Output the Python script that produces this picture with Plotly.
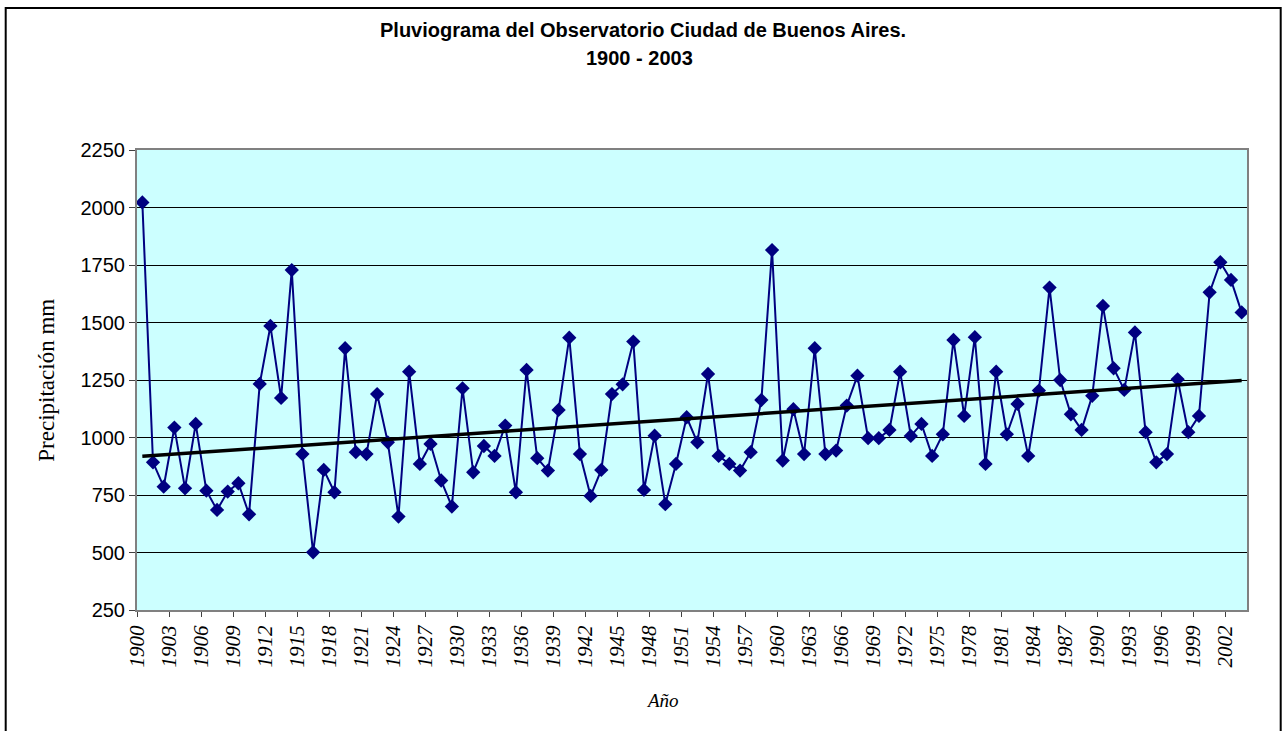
import numpy as np
import plotly.graph_objects as go

years = list(range(1900, 2004))
precip = [
    2022, 892, 786, 1043, 779, 1059, 769, 685, 765, 801,
    666, 1233, 1485, 1172, 1728, 928, 501, 859, 762, 1388,
    936, 928, 1189, 979, 656, 1286, 885, 972, 813, 700,
    1214, 849, 963, 920, 1052, 762, 1294, 910, 856, 1120,
    1434, 928, 746, 859, 1189, 1231, 1417, 772, 1008, 710,
    885, 1088, 979, 1276, 920, 885, 856, 936, 1163, 1815,
    900, 1123, 928, 1388, 928, 943, 1139, 1269, 997, 997,
    1033, 1286, 1007, 1059, 920, 1014, 1424, 1094, 1436, 885,
    1286, 1014, 1146, 920, 1204, 1652, 1250, 1101, 1033, 1181,
    1572, 1301, 1207, 1457, 1023, 892, 928, 1253, 1023, 1094,
    1631, 1762, 1685, 1544,
]
tick_years = list(range(1900, 2004, 3))
y_ticks = [250, 500, 750, 1000, 1250, 1500, 1750, 2000, 2250]

title_line1 = "Pluviograma del Observatorio Ciudad de Buenos Aires."
title_line2 = "1900 - 2003"
y_title = "Precipitación mm"
x_title = "Año"

# linear trend (least squares) from the data
coef = np.polyfit(years, precip, 1)
trend = np.polyval(coef, years)

W, H = 1287, 731
L, R, T, B = 137.3, 1247.3, 150, 610

def px_x(p):
    return (p - L) / (R - L)

def px_y(p):
    return (B - p) / (B - T)

fig = go.Figure()
fig.add_trace(go.Scatter(
    x=years, y=precip, mode="lines+markers",
    line=dict(color="#000080", width=2),
    marker=dict(symbol="diamond", size=11, color="#000080"),
    showlegend=False,
))
fig.add_trace(go.Scatter(
    x=years, y=trend, mode="lines",
    line=dict(color="#000000", width=3.5),
    showlegend=False,
))

fig.update_layout(
    width=W, height=H,
    margin=dict(l=L, r=W - R, t=T, b=H - B, pad=0),
    paper_bgcolor="white",
    plot_bgcolor="#CCFFFF",
    xaxis=dict(
        range=[1899.5, 2003.5],
        tickmode="array",
        tickvals=[y - 0.5 for y in tick_years],
        ticktext=[str(y) for y in tick_years],
        tickangle=-90,
        tickfont=dict(family="Liberation Serif", size=21, color="black", style="italic"),
        ticks="outside", ticklen=5, tickcolor="#404040",
        showline=True, linecolor="#808080", linewidth=2, mirror=True,
        showgrid=False, zeroline=False,
    ),
    yaxis=dict(
        range=[250, 2250],
        tickmode="array",
        tickvals=y_ticks,
        ticktext=[str(v) for v in y_ticks],
        tickfont=dict(family="Liberation Sans", size=20, color="black"),
        ticks="outside", ticklen=6, tickcolor="#404040",
        showline=True, linecolor="#808080", linewidth=2, mirror=True,
        showgrid=True, gridcolor="black", gridwidth=1,
        zeroline=False,
    ),
    annotations=[
        dict(text="<b>" + title_line1 + "</b>", xref="paper", yref="paper",
             x=px_x(643), y=px_y(30), showarrow=False, xanchor="center", yanchor="middle",
             font=dict(family="Liberation Sans", size=20, color="black")),
        dict(text="<b>" + title_line2 + "</b>", xref="paper", yref="paper",
             x=px_x(640), y=px_y(58), showarrow=False, xanchor="center", yanchor="middle",
             font=dict(family="Liberation Sans", size=20, color="black")),
        dict(text=y_title, xref="paper", yref="paper",
             x=px_x(46), y=px_y(380), showarrow=False, textangle=-90,
             xanchor="center", yanchor="middle",
             font=dict(family="Liberation Serif", size=23, color="black")),
        dict(text=x_title, xref="paper", yref="paper",
             x=px_x(663), y=px_y(700), showarrow=False,
             xanchor="center", yanchor="middle",
             font=dict(family="Liberation Serif", size=19, color="black", style="italic")),
    ],
    shapes=[
        dict(type="rect", xref="paper", yref="paper",
             x0=px_x(6), x1=px_x(1281), y0=px_y(8), y1=px_y(745),
             line=dict(color="black", width=2), fillcolor="rgba(0,0,0,0)", layer="above"),
    ],
)

fig.write_html(
    "out.html",
    config={"displayModeBar": False},
    post_script="document.body.style.margin='0';document.body.style.padding='0';"
                "document.body.style.overflow='hidden';",
)
